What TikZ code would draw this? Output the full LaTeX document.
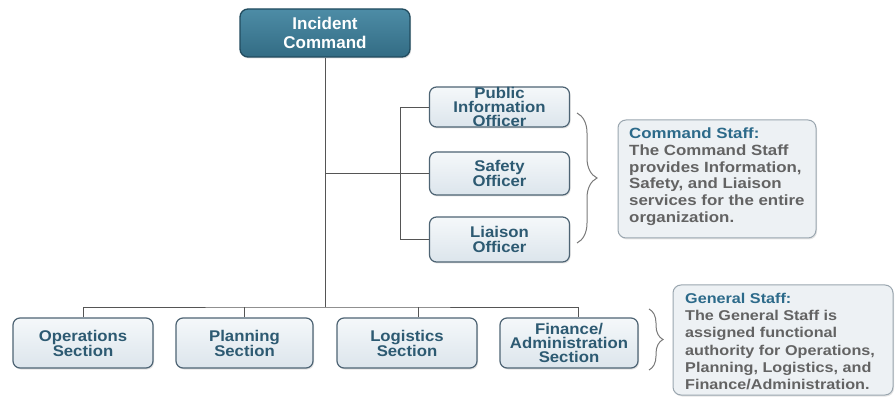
\documentclass[tikz,border=0pt]{standalone}
\usepackage{fontspec}
\setmainfont{Liberation Sans}
\newfontfamily\titlefont[FakeStretch=1.0]{Liberation Sans}
\newfontfamily\boxfont[FakeStretch=1.08]{Liberation Sans}
\newfontfamily\callfont[FakeStretch=1.14]{Liberation Sans}
\usetikzlibrary{shadows,decorations.pathreplacing}
\definecolor{icborder}{HTML}{214B5E}
\definecolor{ictop}{HTML}{4D8CA6}
\definecolor{icbot}{HTML}{336C84}
\definecolor{staffborder}{HTML}{4E6474}
\definecolor{stafftop}{HTML}{F5F8FA}
\definecolor{staffbot}{HTML}{DCE5EC}
\definecolor{stafftext}{HTML}{2D5A72}
\definecolor{callborder}{HTML}{9AA6AF}
\definecolor{callfill}{HTML}{EDF1F4}
\definecolor{calltitle}{HTML}{2C6A8A}
\definecolor{callbody}{HTML}{636363}
\definecolor{linecol}{HTML}{555555}
\definecolor{bracecol}{HTML}{7A7A7A}
\begin{document}
\begin{tikzpicture}[x=1pt,y=-1pt,
  icbox/.style={draw=icborder, line width=1.3pt, rounded corners=8pt,
    top color=ictop, bottom color=icbot, minimum width=170pt, minimum height=48pt,
    inner sep=0pt, align=center, text=white,
    font=\titlefont\bfseries\fontsize{17}{18.5}\selectfont,
    drop shadow={opacity=0.25, shadow xshift=1pt, shadow yshift=-1.5pt}},
  staffbox/.style={draw=staffborder, line width=1.2pt, rounded corners=7pt,
    top color=stafftop, bottom color=staffbot, minimum width=140pt,
    inner sep=0pt, align=center, text=stafftext,
    font=\boxfont\bfseries\fontsize{15.5}{14}\selectfont,
    drop shadow={opacity=0.22, shadow xshift=1pt, shadow yshift=-1.5pt}},
  twoline/.style={font=\boxfont\bfseries\fontsize{15.5}{15}\selectfont},
  callbox/.style={draw=callborder, line width=1pt, rounded corners=8pt,
    fill=callfill, inner sep=0pt,
    drop shadow={opacity=0.2, shadow xshift=1pt, shadow yshift=-1.5pt}},
  calltext/.style={anchor=north west, inner sep=0pt, align=left, text=callbody},
  conn/.style={draw=linecol, line width=0.9pt},
  bracestyle/.style={draw=bracecol, line width=1pt, decorate,
    decoration={brace, amplitude=#1, aspect=0.5}}
]
\useasboundingbox[fill=white] (0,0) rectangle (895,406);

% Incident command
\node[icbox] (ic) at (325,33) {Incident\\Command};

% Command staff
\node[staffbox, minimum height=40pt] (pub) at (499.5,107) {Public\\Information\\Officer};
\node[staffbox, twoline, minimum height=43pt] (saf) at (499.5,173.5) {Safety\\Officer};
\node[staffbox, twoline, minimum height=45pt] (lia) at (499.5,239.5) {Liaison\\Officer};

% General staff
\node[staffbox, twoline, minimum height=50pt] (ops) at (83,343) {Operations\\Section};
\node[staffbox, twoline, minimum width=137pt, minimum height=50pt] (plan) at (244.5,343) {Planning\\Section};
\node[staffbox, twoline, minimum height=50pt] (log) at (407,343) {Logistics\\Section};
\node[staffbox, minimum width=138pt, minimum height=50pt] (fin) at (569,343) {Finance/\\Administration\\Section};

% Connectors
\coordinate (bar) at (325,307);
\coordinate (brk) at (400,107);
\draw[conn] (ic.south) -- (bar);
\draw[conn] (ic.south |- saf.west) -- (saf.west);
\draw[conn] (pub.west) -- (brk) |- (lia.west);
\draw[conn] (ops.north) |- (bar) -| ([xshift=9pt]fin.north);
\draw[conn] (plan.north) -- (plan.north |- bar);
\draw[conn] ([xshift=11pt]log.north) -- ([xshift=11pt]log.north |- bar);

% Braces
\coordinate (cbtop) at (577,113);
\coordinate (cbbot) at (577,243);
\draw[bracestyle=20pt] (cbtop) -- (cbbot);
\coordinate (gbtop) at (649,309);
\coordinate (gbbot) at (649,370);
\draw[bracestyle=14pt] (gbtop) -- (gbbot);

% Callouts
\node[callbox, minimum width=198pt, minimum height=118pt] (cmd) at (717,179) {};
\node[calltext, font=\callfont\bfseries\fontsize{14.8}{16.8}\selectfont] (cmdtext) at (629,127.5)
  {{\color{calltitle}Command Staff:}\\The Command Staff\\provides Information,\\Safety, and Liaison\\services for the entire\\organization.};

\node[callbox, minimum width=220pt, minimum height=110pt] (gen) at (783,340) {};
\node[calltext, font=\callfont\bfseries\fontsize{14.2}{17.2}\selectfont] (gentext) at (685,293)
  {{\color{calltitle}General Staff:}\\The General Staff is\\assigned functional\\authority for Operations,\\Planning, Logistics, and\\Finance/Administration.};
\end{tikzpicture}
\end{document}
